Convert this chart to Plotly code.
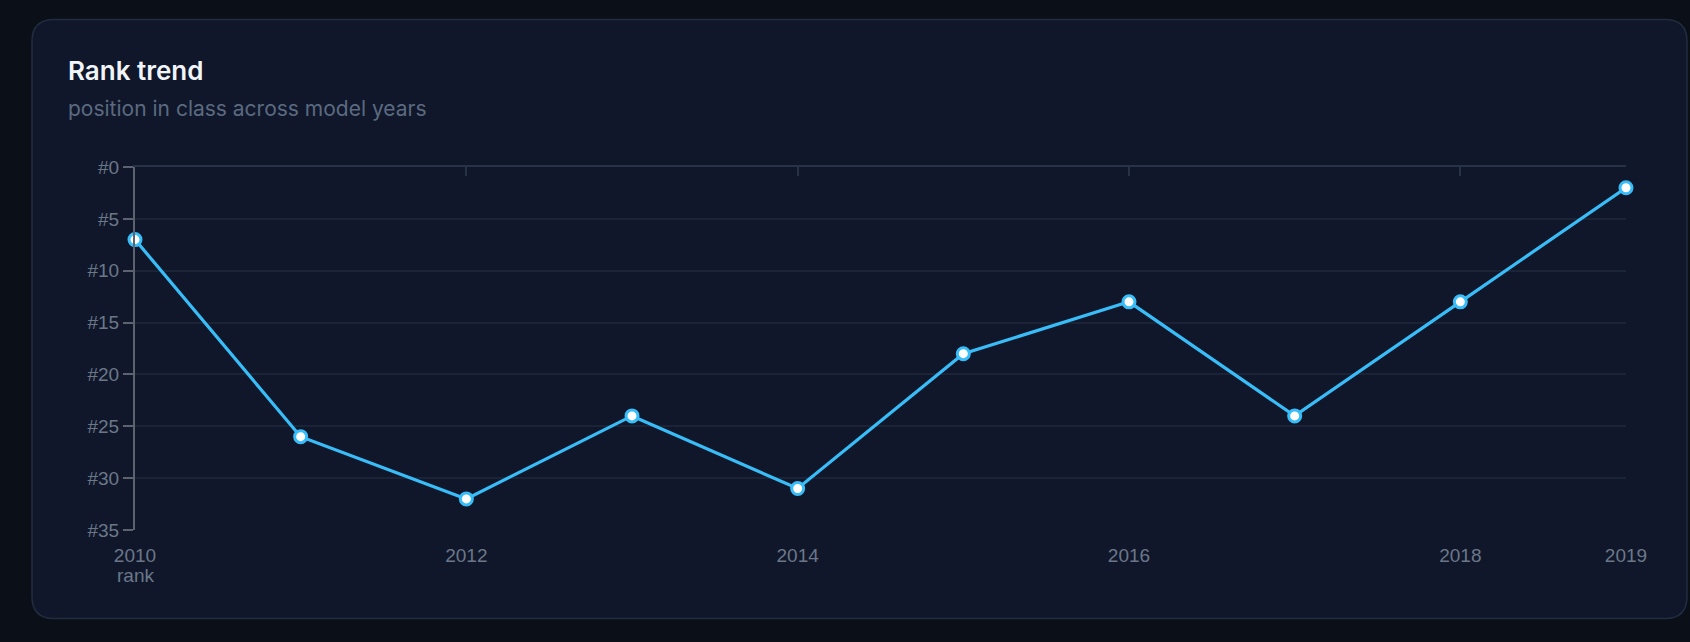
import plotly.graph_objects as go

# data
years = [2010, 2011, 2012, 2013, 2014, 2015, 2016, 2017, 2018, 2019]
ranks = [7, 26, 32, 24, 31, 18, 13, 24, 13, 2]
year_ticks = [2010, 2012, 2014, 2016, 2018, 2019]
rank_ticks = [0, 5, 10, 15, 20, 25, 30, 35]
rank_labels = ["#%d" % r for r in rank_ticks]

W, H = 1690, 642
L, R, T, B = 135, 64, 167, 112
PW, PH = W - L - R, H - T - B

PAGE_BG = "#0b0f17"
CARD_BG = "#10172a"
CARD_EDGE = "#222d41"
LINE = "#38bdf8"
MUTED = "#6b7789"
FRAME = "#263247"


def px(x):
    return (x - L) / PW


def py(y):
    return 1 - (y - T) / PH


def card_path(x0, y0, x1, y1, r):
    # rounded rect in paper coords, corners as quadratic curves
    pts = [
        ("M", px(x0 + r), py(y0)),
        ("L", px(x1 - r), py(y0)),
        ("Q", px(x1), py(y0), px(x1), py(y0 + r)),
        ("L", px(x1), py(y1 - r)),
        ("Q", px(x1), py(y1), px(x1 - r), py(y1)),
        ("L", px(x0 + r), py(y1)),
        ("Q", px(x0), py(y1), px(x0), py(y1 - r)),
        ("L", px(x0), py(y0 + r)),
        ("Q", px(x0), py(y0), px(x0 + r), py(y0)),
    ]
    out = []
    for p in pts:
        cmd, vals = p[0], p[1:]
        coords = " ".join(
            "%.5f,%.5f" % (vals[i], vals[i + 1]) for i in range(0, len(vals), 2)
        )
        out.append(cmd + " " + coords)
    return " ".join(out) + " Z"


fig = go.Figure()
# invisible copy on the top axis so that axis (line + ticks) gets drawn
fig.add_trace(
    go.Scatter(
        x=years,
        y=ranks,
        xaxis="x2",
        mode="lines",
        line=dict(width=0),
        opacity=0,
        hoverinfo="skip",
        showlegend=False,
    )
)
fig.add_trace(
    go.Scatter(
        x=years,
        y=ranks,
        mode="lines+markers",
        line=dict(color=LINE, width=3.2),
        marker=dict(size=12, color="white", line=dict(color=LINE, width=3)),
        cliponaxis=False,
        showlegend=False,
        hovertemplate="%{x}: #%{y}<extra></extra>",
    )
)

tick_font = dict(family="Liberation Sans, Arial", size=19, color=MUTED)

fig.update_layout(
    width=W,
    height=H,
    margin=dict(l=L, r=R, t=T, b=B),
    paper_bgcolor=PAGE_BG,
    plot_bgcolor="rgba(0,0,0,0)",
    showlegend=False,
    xaxis=dict(
        range=[years[0], years[-1]],
        tickvals=year_ticks,
        ticktext=[str(y) for y in year_ticks],
        showgrid=False,
        zeroline=False,
        showline=False,
        ticks="outside",
        ticklen=8,
        tickcolor="rgba(0,0,0,0)",
        tickfont=tick_font,
    ),
    xaxis2=dict(
        overlaying="x",
        anchor="y",
        side="top",
        range=[years[0], years[-1]],
        tickvals=year_ticks,
        showticklabels=False,
        showgrid=False,
        zeroline=False,
        showline=True,
        linecolor=FRAME,
        linewidth=2,
        ticks="inside",
        ticklen=9,
        tickwidth=2,
        tickcolor=FRAME,
    ),
    yaxis=dict(
        range=[35, 0],
        tickvals=rank_ticks,
        ticktext=rank_labels,
        showgrid=True,
        gridcolor="#1b2437",
        gridwidth=1.5,
        zeroline=False,
        showline=True,
        linecolor="#5d636e",
        linewidth=2,
        ticks="outside",
        ticklen=10,
        tickwidth=2,
        tickcolor="#5d636e",
        tickfont=tick_font,
    ),
    shapes=[
        dict(
            type="path",
            xref="paper",
            yref="paper",
            path=card_path(32, 19.5, 1687, 618.5, 22),
            fillcolor=CARD_BG,
            line=dict(color=CARD_EDGE, width=1.5),
            layer="below",
        )
    ],
    annotations=[
        dict(
            text="Rank trend",
            xref="paper",
            yref="paper",
            x=px(66),
            y=py(70),
            xanchor="left",
            yanchor="middle",
            showarrow=False,
            font=dict(family="Inter", size=26, color="#f1f5f9", weight=600),
        ),
        dict(
            text="position in class across model years",
            xref="paper",
            yref="paper",
            x=px(66),
            y=py(108),
            xanchor="left",
            yanchor="middle",
            showarrow=False,
            font=dict(family="Inter", size=21, color="#5b6a80"),
        ),
        dict(
            text="rank",
            xref="x",
            yref="paper",
            x=years[0],
            y=py(575),
            xanchor="center",
            yanchor="middle",
            showarrow=False,
            font=tick_font,
        ),
    ],
)

fig.write_html(
    "out.html",
    config={"displayModeBar": False},
    post_script="document.body.style.margin='0';"
    "document.body.style.background='%s';" % PAGE_BG,
)
